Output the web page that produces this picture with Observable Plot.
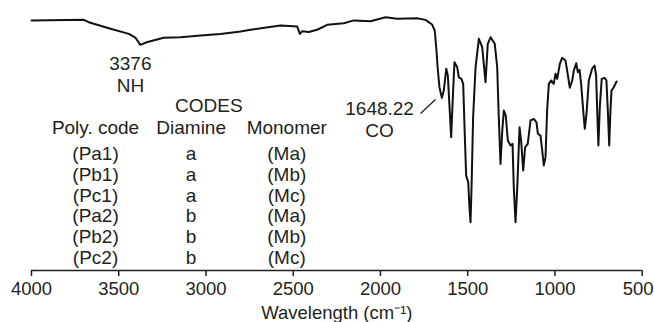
<!DOCTYPE html>
<html>
<head>
<meta charset="utf-8">
<script src="https://cdn.jsdelivr.net/npm/d3@7"></script>
<script src="https://cdn.jsdelivr.net/npm/@observablehq/plot@0.6"></script>
<style>
  html, body { margin: 0; padding: 0; background: #fff; }
  #chart { width: 654px; height: 322px; overflow: hidden; }
</style>
</head>
<body>
<div id="chart"></div>
<script>
// FTIR spectrum of the poly(amide) series: wavenumber (cm-1) vs transmittance (%)
const wavenumber = [
  4000, 3700, 3672, 3547, 3442, 3405, 3376, 3340, 3242, 3146, 3031, 2917, 2802, 2745,
  2573, 2477, 2462, 2449, 2411, 2363, 2305, 2210, 2153, 2057, 1971, 1904, 1790, 1742,
  1704, 1689, 1679, 1672, 1662, 1648.22, 1637, 1623, 1614, 1603, 1595, 1586, 1576, 1560,
  1551, 1536, 1526, 1517, 1509, 1497, 1490, 1484, 1478, 1469, 1455, 1436, 1417, 1398,
  1385, 1369, 1345, 1331, 1322, 1312, 1302, 1293, 1282, 1270, 1255, 1243, 1236, 1226,
  1216, 1203, 1194, 1182, 1171, 1156, 1140, 1121, 1106, 1098, 1083, 1073, 1064, 1054,
  1045, 1035, 1022, 1007, 997, 987, 972, 959, 940, 930, 915, 901, 892, 878,
  869, 859, 850, 838, 829, 819, 806, 787, 773, 764, 758, 751, 743, 732,
  716, 705, 697, 689, 682, 676, 663, 647
];
const transmittance = [
  96.2, 96.4, 95.5, 93.0, 91.0, 89.6, 86.8, 87.8, 89.5, 89.7, 90.4, 91.0, 91.9, 92.6,
  94.2, 93.8, 91.0, 92.0, 91.7, 92.6, 94.5, 95.1, 96.2, 95.9, 97.4, 96.8, 97.0, 96.4,
  94.6, 92.3, 84.6, 77.7, 70.5, 66.4, 69.2, 77.6, 75.0, 61.5, 51.3, 65.4, 80.1, 78.2,
  74.3, 73.7, 71.8, 52.6, 36.5, 34.0, 24.3, 18.6, 32.0, 59.0, 78.2, 89.1, 85.9, 72.4,
  87.2, 89.7, 87.2, 78.2, 59.0, 41.0, 53.8, 61.5, 59.6, 50.0, 48.1, 48.7, 32.0, 18.6,
  32.0, 55.1, 50.0, 38.5, 47.4, 48.7, 57.7, 58.3, 57.0, 52.6, 51.9, 46.2, 40.4, 43.6,
  61.5, 71.8, 73.1, 71.8, 75.7, 73.7, 79.5, 81.8, 80.8, 76.9, 70.3, 73.1, 76.9, 79.7,
  76.3, 77.2, 71.8, 61.5, 54.5, 60.3, 73.1, 77.6, 78.8, 75.0, 61.5, 48.1, 62.8, 73.7,
  74.1, 73.1, 61.5, 48.1, 61.5, 69.2, 70.5, 72.7
];

// Composition table of the polymers
const tableTitle = "CODES";
const tableHeaders = ["Poly. code", "Diamine", "Monomer"];
const polyCodes = ["(Pa1)", "(Pb1)", "(Pc1)", "(Pa2)", "(Pb2)", "(Pc2)"];
const diamines = ["a", "a", "a", "b", "b", "b"];
const monomers = ["(Ma)", "(Mb)", "(Mc)", "(Ma)", "(Mb)", "(Mc)"];

// Band assignments
const nhBand = {wavenumber: 3376, label: "3376\nNH"};
const coBand = {wavenumber: 1648.22, label: "1648.22\nCO"};

const tickValues = [4000, 3500, 3000, 2500, 2000, 1500, 1000, 500];
const xLabel = "Wavelength (cm\u207B\u00B9)";

const spectrum = wavenumber.map((v, i) => ({v, t: transmittance[i]}));

// Table layout in chart units (wavenumber columns, transmittance rows)
const colX = [3633, 3085, 2537];
const titleX = 2984;
const titleY = 60.9, headerY = 52.5, firstRowY = 42.5, rowStep = 8.01;
const rows = polyCodes.map((code, i) => ({code, diamine: diamines[i], monomer: monomers[i], y: firstRowY - i * rowStep}));

const ink = "#231f20";
const font = "'Liberation Sans', Arial, Helvetica, sans-serif";
const textOpts = {fill: ink, fontSize: 19, lineAnchor: "bottom", textAnchor: "middle", lineHeight: 1.16};
const axisOpts = {tickFormat: "d", tickSize: 6, tickPadding: 5, strokeWidth: 1.5, label: null, fontSize: 18.5};

const chart = Plot.plot({
  width: 654,
  height: 322,
  marginLeft: 31,
  marginRight: 12.3,
  marginTop: 10,
  marginBottom: 52,
  style: {fontFamily: font, fontSize: "18.5px", color: ink, background: "#fff", overflow: "visible"},
  x: {domain: [4000, 500], axis: null},
  y: {domain: [0, 100], axis: null},
  marks: [
    Plot.axisX({ticks: tickValues.slice(0, -1), ...axisOpts}),
    // last tick: label nudged inward so it stays on the page
    Plot.axisX({ticks: tickValues.slice(-1), ...axisOpts, text: null}),
    Plot.axisX({ticks: tickValues.slice(-1), ...axisOpts, tickSize: 0, tickPadding: 11, dx: -4}),
    Plot.ruleY([0], {stroke: ink, strokeWidth: 1.6}),
    Plot.line(spectrum, {x: "v", y: "t", stroke: "#111", strokeWidth: 2, strokeLinejoin: "round"}),
    Plot.text([xLabel], {frameAnchor: "bottom", dy: 48, lineAnchor: "bottom", fontSize: 18.5, fill: ink}),
    // band labels
    Plot.text([nhBand], {x: "wavenumber", y: () => 68.5, text: "label", dx: -10, ...textOpts}),
    Plot.text([coBand], {x: () => 2005, y: () => 51.2, text: "label", ...textOpts}),
    Plot.link([coBand], {x1: () => 1770, y1: () => 60.4, x2: () => 1685, y2: () => 65.8, stroke: ink, strokeWidth: 1.3}),
    // composition table
    Plot.text([tableTitle], {x: () => titleX, y: () => titleY, text: d => d, ...textOpts}),
    Plot.text(tableHeaders, {x: (d, i) => colX[i], y: () => headerY, text: d => d, ...textOpts}),
    Plot.text(rows, {x: () => colX[0], y: "y", text: "code", ...textOpts}),
    Plot.text(rows, {x: () => colX[1], y: "y", text: "diamine", ...textOpts}),
    Plot.text(rows, {x: () => colX[2], y: "y", text: "monomer", ...textOpts})
  ]
});

document.getElementById("chart").append(chart);
</script>
</body>
</html>
